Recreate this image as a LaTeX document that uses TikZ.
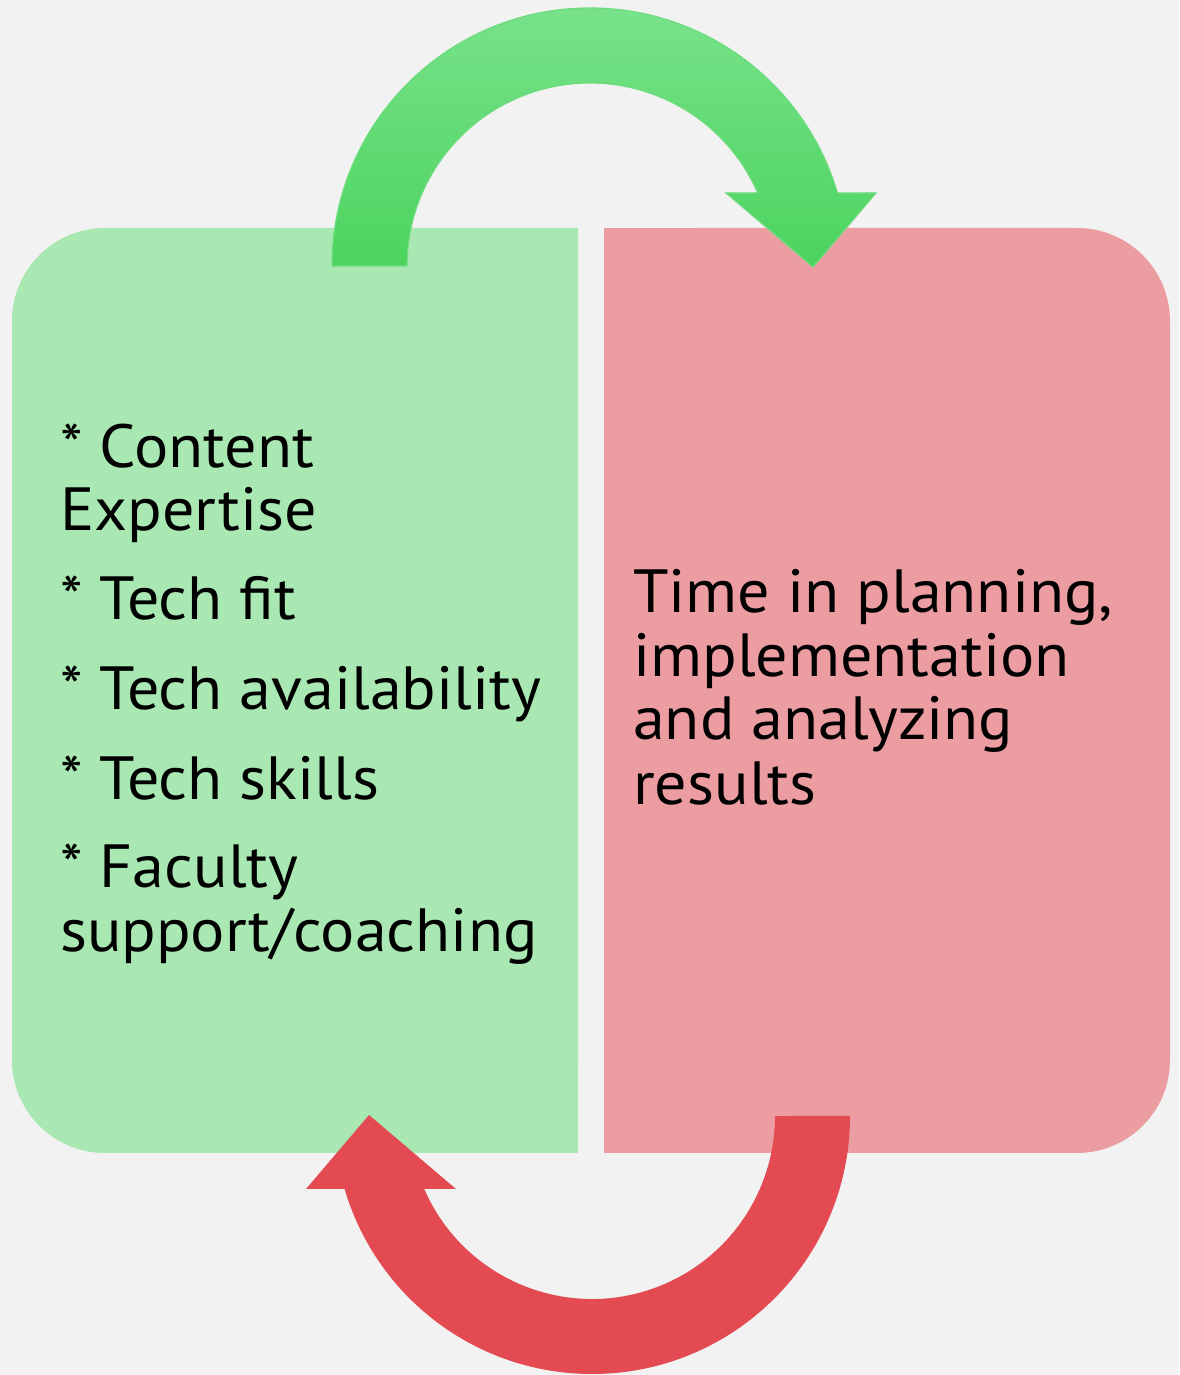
\documentclass[tikz,border=0pt]{standalone}
\usepackage{fontspec}
\setmainfont{PT Sans}[FakeStretch=1.05]
\begin{document}
\begin{tikzpicture}[x=1pt,y=1pt]
  \definecolor{bgc}{HTML}{F2F2F2}
  \definecolor{boxgreen}{HTML}{A9E8B3}
  \definecolor{boxred}{HTML}{EC9DA1}
  \definecolor{arrowgreenA}{HTML}{78E28A}
  \definecolor{arrowgreenB}{HTML}{4BD45E}
  \definecolor{arrowgreenedge}{HTML}{6EDC7E}
  \definecolor{arrowred}{HTML}{E34A52}
  \tikzset{
    itemtext/.style={anchor=base west, inner sep=0pt, font=\fontsize{61}{63}\selectfont, text=black}
  }
  % outline of a curved block arrow: thick circular band with a triangular head
  \newcommand\bentarrowpath{%
    (332,1109) arc[start angle=180, end angle=16.43, radius=258]
    -- (876,1182) -- (813,1108) -- (726,1182)
    -- (757.8,1182) arc[start angle=23.51, end angle=180, radius=183]
    -- cycle}

  % page background
  \fill[bgc] (0,0) rectangle (1179,1375);
  \useasboundingbox (0,0) rectangle (1179,1375);

  % the two panels
  \fill[boxgreen, rounded corners=93pt] (578,1147) -- (12,1147) -- (12,222) -- (578,222) [sharp corners] -- cycle;
  \fill[boxgreen] (400,222) rectangle (578,1147);
  \fill[boxred, rounded corners=93pt] (604,222) -- (1170,222) -- (1170,1147) -- (604,1147) [sharp corners] -- cycle;
  \fill[boxred] (604,222) rectangle (780,1147);

  % curved arrows
  \path[top color=arrowgreenA, bottom color=arrowgreenB, draw=arrowgreenedge, line width=1.2pt] \bentarrowpath;
  \begin{scope}[rotate around={180:(591,684)}]
    \fill[arrowred] \bentarrowpath;
  \end{scope}

  % left panel text
  \node[itemtext] (l1) at (60,907) {* Content};
  \node[itemtext] (l2) at (60,844) {Expertise};
  \node[itemtext] (l3) at (60,755) {* Tech fit};
  \node[itemtext] (l4) at (60,665) {* Tech availability};
  \node[itemtext] (l5) at (60,575) {* Tech skills};
  \node[itemtext] (l6) at (60,487) {* Faculty};
  \node[itemtext] (l7) at (60,423) {support/coaching};

  % right panel text
  \node[itemtext] (r1) at (633,762) {Time in planning,};
  \node[itemtext] (r2) at (633,698) {implementation};
  \node[itemtext] (r3) at (633,635) {and analyzing};
  \node[itemtext] (r4) at (633,570) {results};
\end{tikzpicture}
\end{document}
